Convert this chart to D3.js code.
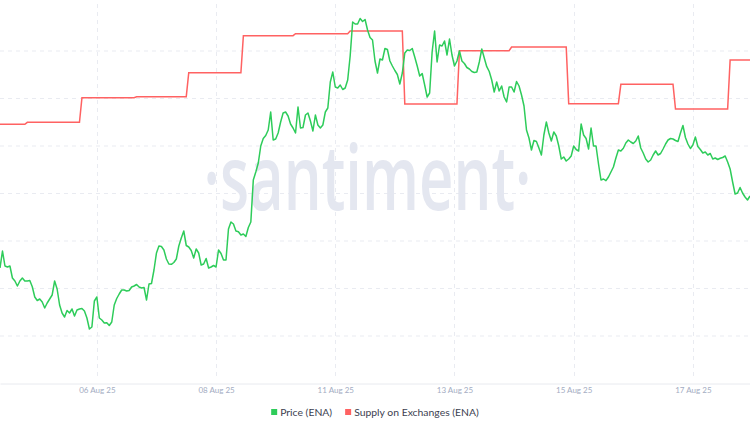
<!DOCTYPE html>
<html><head><meta charset="utf-8">
<script src="https://cdn.jsdelivr.net/npm/d3@7"></script>
<style>html,body{margin:0;padding:0;background:#fff;} svg{display:block;}</style>
</head><body>
<svg id="chart" width="750" height="430"></svg>
<script>
// Hourly ENA price (USD), hour 0 = 04 Aug 2025 09:00
const priceENA = [
.632,.649,.634,.633,.634,.622,.619,.614,.619,.622,
.619,.619,.6195,.6133,.603,.5995,.601,.598,.592,.597,
.601,.605,.619,.611,.595,.587,.583,.5895,.587,.591,
.584,.590,.591,.5915,.589,.582,.571,.573,.599,.603,
.582,.580,.577,.5773,.5745,.578,.595,.6015,.606,.610,
.610,.609,.6095,.613,.614,.6155,.613,.612,.6125,.600,
.616,.6165,.630,.647,.654,.6535,.650,.641,.636,.6357,
.6375,.641,.654,.662,.669,.6545,.653,.6495,.642,.651,
.647,.635,.636,.6415,.632,.633,.6345,.633,.650,.6465,
.640,.640,.671,.678,.676,.669,.6683,.665,.666,.6635,
.6725,.678,.720,.728,.737,.754,.7615,.7645,.770,.788,
.760,.761,.767,.778,.787,.788,.784,.776,.772,.767,
.793,.772,.7725,.785,.787,.779,.769,.785,.775,.772,
.775,.788,.792,.818,.828,.813,.812,.815,.8105,.812,
.820,.844,.878,.876,.876,.8815,.8785,.8805,.870,.8625,
.860,.839,.827,.841,.840,.8515,.8505,.839,.834,.8295,
.8255,.816,.827,.847,.850,.8495,.8515,.843,.834,.824,
.8265,.815,.803,.807,.848,.869,.838,.855,.854,.859,
.845,.861,.845,.834,.839,.849,.839,.8365,.8325,.831,
.8285,.8275,.828,.838,.851,.842,.8333,.8285,.820,.808,
.818,.809,.814,.803,.798,.813,.813,.808,.8185,.814,
.805,.794,.770,.762,.750,.7595,.7585,.752,.745,.765,
.778,.767,.759,.768,.764,.754,.741,.743,.739,.741,
.744,.754,.7505,.749,.776,.765,.7615,.751,.772,.754,
.754,.736,.720,.721,.7193,.723,.728,.733,.742,.750,
.749,.7517,.757,.760,.758,.7565,.759,.764,.752,.747,
.741,.738,.740,.745,.749,.745,.7465,.751,.756,.760,
.7615,.761,.7595,.7585,.767,.7745,.7625,.756,.7515,.755,
.763,.7535,.7505,.747,.748,.745,.7465,.741,.742,.7405,
.7417,.7425,.744,.738,.731,.718,.706,.707,.7125,.707,
.703,.700,.704
];
// Supply on exchanges (millions ENA): value holds from the given hour until the next change
const supplyStartHour = [0, 11, 33, 55, 76, 98, 119, 141, 163, 185, 206, 229, 250, 272, 294];
const supplyENA = [1575.7, 1577.7, 1602.3, 1603.3, 1627.3, 1664.3, 1666.3, 1669, 1596, 1649.3, 1653, 1596.3, 1615.7, 1591, 1640];
const tickHours = [39, 87, 135, 183, 231, 279];
const tickLabels = ["06 Aug 25", "08 Aug 25", "11 Aug 25", "13 Aug 25", "15 Aug 25", "17 Aug 25"];
const seriesNames = ["Price (ENA)", "Supply on Exchanges (ENA)"];
const seriesColors = ["#2ecc5a", "#ff6262"];

const W = 750, H = 430;
const svg = d3.select("#chart");
const lastHour = priceENA.length - 1;
const x = d3.scaleLinear().domain([0, lastHour]).range([0, W]);
const yPrice = d3.scaleLinear().domain([0.5165, 0.8965]).range([383.5, 3.5]);
const ySupply = d3.scaleLinear().domain([1316.5, 1696.5]).range([383.5, 3.5]);
const yGrid = d3.scaleLinear().domain([0, 8]).range([383.5, 3.5]);

// horizontal grid
svg.append("g").selectAll("line").data(d3.range(1, 8)).join("line")
  .attr("x1", 0).attr("x2", W)
  .attr("y1", d => yGrid(d)).attr("y2", d => yGrid(d))
  .attr("stroke", "#e9ebf1").attr("stroke-width", 1).attr("stroke-dasharray", "4,4");
// vertical grid
svg.append("g").selectAll("line").data(tickHours).join("line")
  .attr("x1", d => Math.round(x(d)) + 0.5).attr("x2", d => Math.round(x(d)) + 0.5)
  .attr("y1", 4).attr("y2", 380)
  .attr("stroke", "#e9ebf1").attr("stroke-width", 1).attr("stroke-dasharray", "4,4");

// watermark
svg.append("text").attr("x", 367.5).attr("y", 210).attr("text-anchor", "middle")
  .attr("font-family", "'Open Sans', sans-serif").attr("font-size", 90).attr("font-weight", 600)
  .attr("fill", "#e4e7f0").attr("textLength", 328).attr("lengthAdjust", "spacingAndGlyphs")
  .text("·santiment·");

// x axis
const axis = svg.append("g").attr("transform", "translate(0,383.5)")
  .call(d3.axisBottom(x).tickValues(tickHours).tickFormat((d, i) => tickLabels[i]).tickSize(0).tickPadding(4));
axis.select(".domain").attr("stroke", "#e8eaef");
axis.selectAll("text").attr("font-family", "Lato, sans-serif").attr("font-size", 8).attr("fill", "#a3acc2");

// supply line
const supplyPts = [];
supplyStartHour.forEach((h, i) => {
  const end = i < supplyStartHour.length - 1 ? supplyStartHour[i + 1] - 1 : lastHour;
  supplyPts.push([h, supplyENA[i]]);
  supplyPts.push([end, supplyENA[i]]);
});
svg.append("path").datum(supplyPts)
  .attr("fill", "none").attr("stroke", seriesColors[1]).attr("stroke-width", 1.5)
  .attr("d", d3.line().x(d => x(d[0])).y(d => ySupply(d[1])));

// price line
svg.append("path").datum(priceENA)
  .attr("fill", "none").attr("stroke", seriesColors[0]).attr("stroke-width", 1.5)
  .attr("stroke-linejoin", "round")
  .attr("d", d3.line().x((d, i) => x(i)).y(d => yPrice(d)));

// legend
const lg = svg.append("g");
let cx = 0;
seriesNames.forEach((name, i) => {
  const g = lg.append("g").attr("transform", `translate(${cx},0)`);
  g.append("rect").attr("x", 0).attr("y", -3).attr("width", 6).attr("height", 6).attr("fill", seriesColors[i]);
  const t = g.append("text").attr("x", 9).attr("y", 4).attr("font-family", "Lato, sans-serif")
    .attr("font-size", 10.4).attr("fill", "#3c4150").text(name);
  cx += 9 + t.node().getComputedTextLength() + 13;
});
const lw = cx - 13;
lg.attr("transform", `translate(${(W - lw) / 2},412)`);
</script>
</body></html>
